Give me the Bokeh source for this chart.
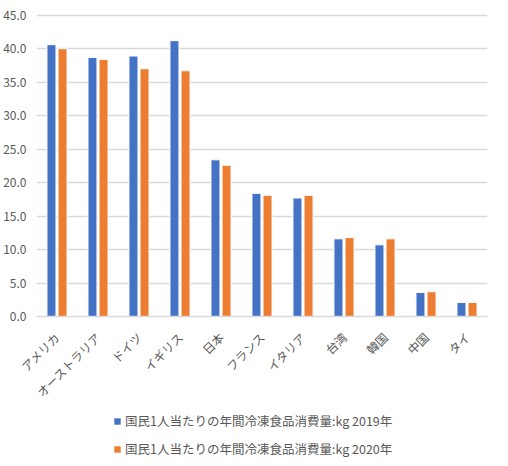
from math import pi

from bokeh.embed import file_html
from bokeh.layouts import column
from bokeh.models import ColumnDataSource, Legend, LegendItem, NumeralTickFormatter, Range1d
from bokeh.plotting import figure
from bokeh.resources import INLINE
from bokeh.transform import dodge

countries = ["アメリカ", "オーストラリア", "ドイツ", "イギリス", "日本", "フランス",
             "イタリア", "台湾", "韓国", "中国", "タイ"]
kg2019 = [40.6, 38.7, 38.9, 41.2, 23.4, 18.4, 17.7, 11.6, 10.7, 3.6, 2.1]
kg2020 = [40.0, 38.4, 37.0, 36.7, 22.6, 18.1, 18.1, 11.8, 11.6, 3.7, 2.1]
labels = ["国民1人当たりの年間冷凍食品消費量:kg 2019年",
          "国民1人当たりの年間冷凍食品消費量:kg 2020年"]
colors = ["#4472c4", "#ed7d31"]

FONT = "Noto Sans CJK JP"
GREY = "#595959"

src = ColumnDataSource(dict(c=countries, a=kg2019, b=kg2020))

p = figure(x_range=countries, y_range=(0, 46), width=492, height=408,
           output_backend="svg", toolbar_location=None,
           min_border_left=29, min_border_right=5, min_border_top=8, min_border_bottom=85)
p.outline_line_color = None

p.vbar(x=dodge("c", -0.135, range=p.x_range), top="a", width=0.22, source=src,
       fill_color=colors[0], line_color="white", line_width=1)
p.vbar(x=dodge("c", 0.135, range=p.x_range), top="b", width=0.22, source=src,
       fill_color=colors[1], line_color="white", line_width=1)

p.yaxis.ticker = [0, 5, 10, 15, 20, 25, 30, 35, 40, 45]
p.yaxis.formatter = NumeralTickFormatter(format="0.0")
p.yaxis.axis_line_color = None
p.yaxis.major_tick_line_color = None
p.yaxis.minor_tick_line_color = None
p.yaxis.major_label_standoff = 4

p.xaxis.axis_line_color = "#d9d9d9"
p.xaxis.axis_line_width = 1.5
p.xaxis.major_tick_line_color = None
p.xaxis.major_label_orientation = pi / 4
p.xaxis.major_label_standoff = 12

for ax in (p.xaxis, p.yaxis):
    ax.major_label_text_font = FONT
    ax.major_label_text_font_size = "12px"
    ax.major_label_text_color = GREY

p.xgrid.grid_line_color = None
p.ygrid.grid_line_color = "#d9d9d9"
p.ygrid.grid_line_width = 1.5

# legend lives in its own strip under the chart
leg = figure(width=492, height=58, x_range=Range1d(0, 1), y_range=Range1d(0, 1),
             x_axis_location=None, y_axis_location=None,
             output_backend="svg", toolbar_location=None,
             min_border=0)
leg.outline_line_color = None
leg.grid.grid_line_color = None
items = []
for lab, col in zip(labels, colors):
    # one bar well outside the view, only so the legend has a glyph to draw
    r = leg.vbar(x=[-10], bottom=[-6], top=[-5], width=0.1, fill_color=col, line_color=None)
    items.append(LegendItem(label=lab, renderers=[r]))

legend = Legend(items=items, orientation="vertical", location=(77, 8),
                glyph_width=8, glyph_height=8, label_height=16, spacing=9,
                label_standoff=4, label_text_font=FONT, label_text_font_size="12.5px",
                label_text_color=GREY, border_line_color=None,
                background_fill_alpha=0, margin=0, padding=0)
leg.add_layout(legend, "center")

open("out.html", "w").write(file_html(column(p, leg), INLINE))
